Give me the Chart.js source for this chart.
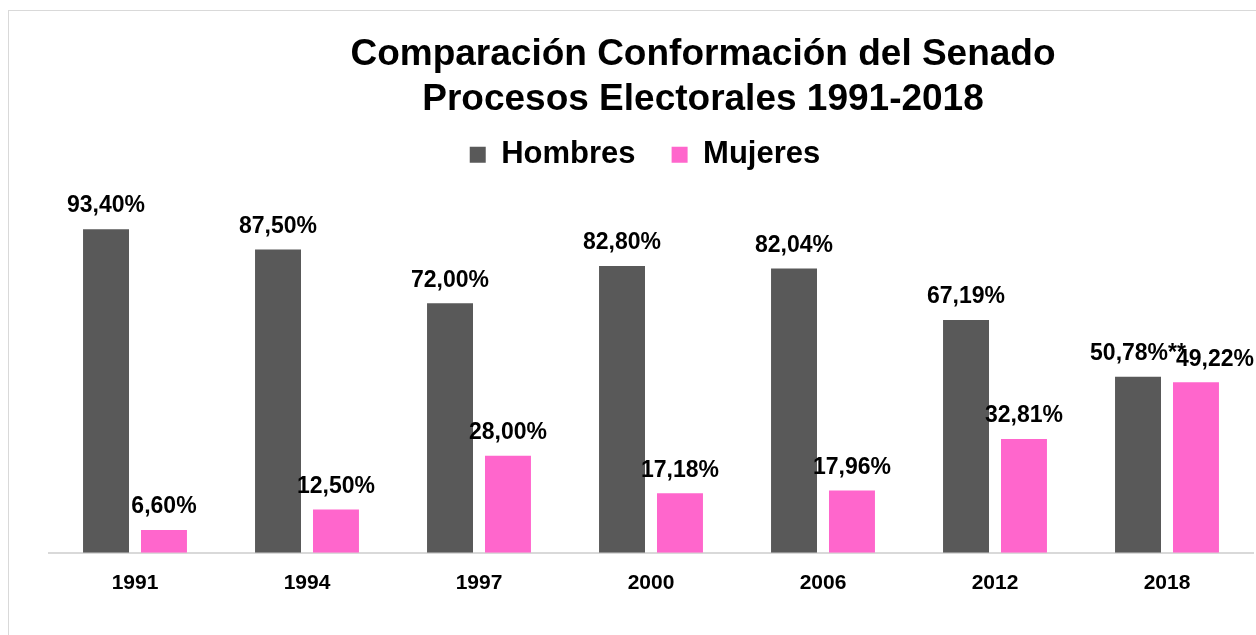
<!DOCTYPE html>
<html>
<head>
<meta charset="utf-8">
<script src="https://cdn.jsdelivr.net/npm/chart.js@4"></script>
<style>
  html, body { margin: 0; padding: 0; background: #fff; overflow: hidden; width: 1256px; height: 635px; }
  .marco { position: absolute; left: 8px; top: 10px; width: 1393px; height: 640px; border: 1px solid #d9d9d9; box-sizing: content-box; }
  .lienzo { position: relative; width: 1393px; height: 624px; }
</style>
</head>
<body>
<div class="marco"><div class="lienzo"><canvas id="senado"></canvas></div></div>
<script>

const anios = ['1991', '1994', '1997', '2000', '2006', '2012', '2018']
const hombres = [93.40, 87.50, 72.00, 82.80, 82.04, 67.19, 50.78]
const mujeres = [6.60, 12.50, 28.00, 17.18, 17.96, 32.81, 49.22]
const notasHombres = ['', '', '', '', '', '', '**']
const notasMujeres = ['', '', '', '', '', '', '']

const colores = {
  hombres: '#595959',
  mujeres: '#ff66cc',
  eje: '#d9d9d9'
}

const fuente = "'Liberation Sans', Arial, sans-serif"

const formatoPct = v => v.toFixed(2).replace('.', ',') + '%'

// etiquetas de valor encima de cada barra
const etiquetasBarras = {
  id: 'etiquetasBarras',
  afterDatasetsDraw(chart, args, opts) {
    const { ctx } = chart
    ctx.save()
    ctx.font = `bold ${opts.size}px ${fuente}`
    ctx.fillStyle = '#000'
    ctx.textAlign = 'center'
    ctx.textBaseline = 'middle'
    chart.data.datasets.forEach((ds, i) => {
      const meta = chart.getDatasetMeta(i)
      meta.data.forEach((bar, j) => {
        const texto = formatoPct(ds.data[j]) + ds.notas[j]
        const dx = (i === 1 && j === ds.data.length - 1) ? opts.ultimoDx : 0
        ctx.fillText(texto, bar.x + dx, bar.y - opts.separacion)
      })
    })
    ctx.restore()
  }
}

// el titulo y la leyenda no van centrados igual en el original
const moverCajas = {
  id: 'moverCajas',
  afterLayout(chart, args, opts) {
    const t = chart.titleBlock
    if (t) {
      t.left += opts.tituloDx
      t.right += opts.tituloDx
    }
    const l = chart.legend
    if (l) {
      l.left += opts.leyendaDx
      l.right += opts.leyendaDx
      l.top += opts.leyendaDy
      l.bottom += opts.leyendaDy
    }
  }
}

const data = {
  labels: anios,
  datasets: [
    {
      label: 'Hombres',
      data: hombres,
      notas: notasHombres,
      backgroundColor: colores.hombres
    },
    {
      label: 'Mujeres',
      data: mujeres,
      notas: notasMujeres,
      backgroundColor: colores.mujeres
    }
  ]
}

const options = {
  responsive: true,
  maintainAspectRatio: false,
  animation: false,
  layout: {
    padding: { left: 40, right: 149, top: 0, bottom: 21 }
  },
  datasets: {
    bar: {
      categoryPercentage: 0.674,
      barPercentage: 0.793
    }
  },
  scales: {
    x: {
      grid: { display: false, drawTicks: false },
      border: { color: colores.eje, width: 2 },
      ticks: {
        color: '#000',
        padding: 18,
        font: { family: fuente, size: 21, weight: 'bold' }
      }
    },
    y: {
      display: false,
      min: 0,
      max: 100
    }
  },
  plugins: {
    title: {
      display: true,
      text: ['Comparación Conformación del Senado', 'Procesos Electorales 1991-2018'],
      color: '#000',
      font: { family: fuente, size: 37, weight: 'bold', lineHeight: 1.22 },
      padding: { top: 21, bottom: 7 }
    },
    legend: {
      display: true,
      labels: {
        color: '#000',
        boxWidth: 16,
        boxHeight: 16,
        padding: 36,
        font: { family: fuente, size: 31, weight: 'bold' }
      }
    },
    tooltip: { enabled: false },
    etiquetasBarras: {
      size: 23,
      separacion: 23,
      ultimoDx: 19
    },
    moverCajas: {
      tituloDx: 52,
      leyendaDx: -6,
      leyendaDy: -26
    }
  }
}

new Chart('senado', {
  type: 'bar',
  data,
  options,
  plugins: [etiquetasBarras, moverCajas]
})

</script>
</body>
</html>
